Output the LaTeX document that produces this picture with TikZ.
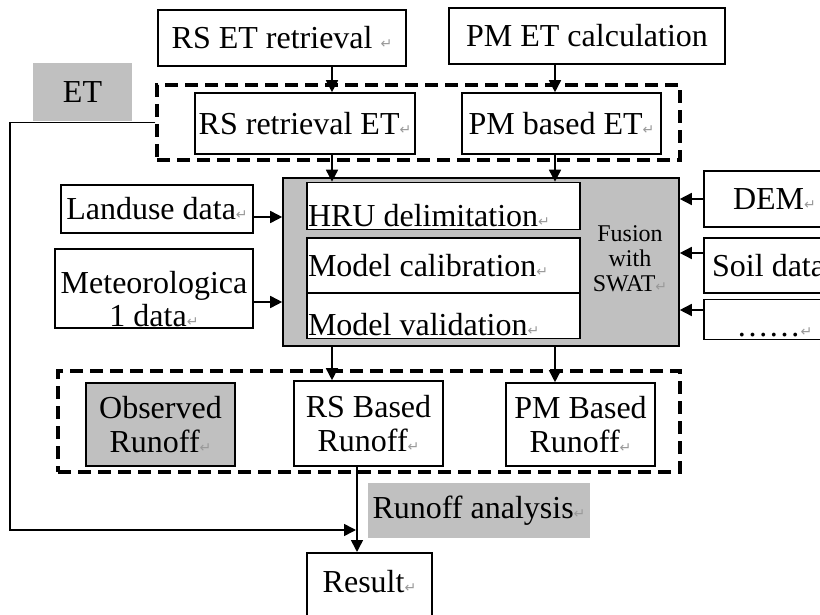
\documentclass[tikz,border=0pt]{standalone}
\usepackage{fontspec}
\setmainfont{Liberation Serif}
\newfontfamily\markfont{DejaVu Sans}
\usetikzlibrary{arrows.meta}
\definecolor{fillgrey}{HTML}{C0C0C0}
\newcommand{\pmk}{{\markfont\fontsize{7}{7}\selectfont\textcolor{gray!80}{↵}}}

\begin{document}
\begin{tikzpicture}[x=0.5pt,y=-0.5pt,
    font=\fontsize{16}{17}\selectfont,
    box/.style={draw,fill=white,line width=0.8pt,inner sep=1pt,align=center},
    shaded/.style={fill=fillgrey,inner sep=1pt,align=center},
    grp/.style={draw,line width=1.6pt,dash pattern=on 6.5pt off 3.5pt},
    link/.style={line width=0.8pt,-{Triangle[length=6pt,width=6pt]}}
  ]
  \useasboundingbox (0,0) rectangle (820,615);
  \clip (0,0) rectangle (820,615);

  \node[box,minimum width=124pt,minimum height=28pt] (retr) at (282,38) {RS ET retrieval \pmk};
  \node[box,minimum width=138pt,minimum height=28pt] (pmcalc) at (587,36) {PM ET calculation};

  \node[grp,minimum width=261.5pt,minimum height=37.5pt] (etgrp) at (418.5,122.5) {};
  \node[box,minimum width=110pt,minimum height=30.5pt] (rset) at (305,123.5) {RS retrieval ET\pmk};
  \node[box,minimum width=99.5pt,minimum height=30.5pt] (pmet) at (561.5,123.5) {PM based ET\pmk};
  \node[shaded,minimum width=49.5pt,minimum height=29pt] (et) at (82.5,92) {ET};

  \node[box,fill=fillgrey,minimum width=198pt,minimum height=84pt] (swat) at (481,262) {};
  \node[box,inner sep=0pt] (hru) at (443.5,206)
    {\parbox[c][22pt][b]{136.5pt}{\hspace*{0.5pt}HRU delimitation\pmk\rule[-1.5pt]{0pt}{0pt}}};
  \node[box,inner sep=0pt] (mcal) at (443.5,265.5)
    {\parbox[c][27.5pt][c]{136.5pt}{\hspace*{0.5pt}Model calibration\pmk}};
  \node[box,inner sep=0pt] (mval) at (443.5,316)
    {\parbox[c][21pt][b]{136.5pt}{\hspace*{0.5pt}Model validation\pmk\rule[-1.5pt]{0pt}{0pt}}};
  \node[font=\fontsize{12}{12.5}\selectfont,align=center] (fus) at (630,259) {Fusion\\with\\SWAT\pmk};

  \node[box,minimum width=96pt,minimum height=24pt] (land) at (157,209) {Landuse data\pmk};
  \node[box,inner sep=0pt] (meteo) at (154,288.5)
    {\parbox[c][38.5pt][b]{99pt}{\centering\baselineskip=16.5pt Meteorologica\\1 data\pmk\rule[-1pt]{0pt}{0pt}}};

  \node[box,minimum width=70.5pt,minimum height=28pt] (dem) at (774.5,199) {DEM\pmk};
  \node[box,minimum width=70.5pt,minimum height=27.5pt] (soil) at (774.5,265.5) {Soil data\pmk};
  \node[box,inner sep=0pt] (more) at (774.5,319.5)
    {\parbox[c][18.5pt][b]{70.5pt}{\centering ……\pmk\rule[-1.5pt]{0pt}{0pt}}};

  \node[grp,minimum width=311pt,minimum height=50.5pt] (rungrp) at (369,421.5) {};
  \node[box,fill=fillgrey,minimum width=74.5pt,minimum height=41.5pt] (obs) at (160.5,424.5) {Observed\\Runoff\pmk};
  \node[box,minimum width=74.5pt,minimum height=42.5pt] (rsrun) at (368.5,423.5) {RS Based\\Runoff\pmk};
  \node[box,minimum width=74.5pt,minimum height=41.5pt] (pmrun) at (580.5,424.5) {PM Based\\Runoff\pmk};

  \node[shaded,minimum width=111pt,minimum height=27.5pt] (analysis) at (479,510.5) {Runoff analysis\pmk};
  \node[box,anchor=north,inner sep=0pt] (result) at (369.5,552)
    {\parbox[c][45pt][t]{62.5pt}{\centering\rule{0pt}{20pt}Result\pmk}};

  \coordinate (colA) at (332,0);
  \coordinate (colB) at (555,0);
  \coordinate (colC) at (357,0);
  \coordinate (leftx) at (10,0);
  \coordinate (join) at (356,530);

  \draw[link] (retr.south -| colA) -- (rset.north -| colA);
  \draw[link] (pmcalc.south -| colB) -- (pmet.north -| colB);
  \draw[link] (rset.south -| colA) -- (hru.north -| colA);
  \draw[link] (pmet.south -| colB) -- (hru.north -| colB);
  \draw[link] ([yshift=-4pt]land.east) -- ([yshift=-4pt]land.east -| swat.west);
  \draw[link] ([yshift=-6.75pt]meteo.east) -- ([yshift=-6.75pt]meteo.east -| swat.west);
  \draw[link] (dem.west) -- (dem.west -| swat.east);
  \draw[link] ([yshift=6.25pt]soil.west) -- ([yshift=6.25pt]soil.west -| swat.east);
  \draw[link] ([yshift=4.75pt]more.west) -- ([yshift=4.75pt]more.west -| swat.east);
  \draw[link] (swat.south -| colA) -- (rsrun.north -| colA);
  \draw[link] (swat.south -| colB) -- (pmrun.north -| colB);
  \draw[link] (rsrun.south -| colC) -- (result.north -| colC);
  \draw[link] (etgrp.west) -| (leftx |- join) -- (join);
\end{tikzpicture}
\end{document}
